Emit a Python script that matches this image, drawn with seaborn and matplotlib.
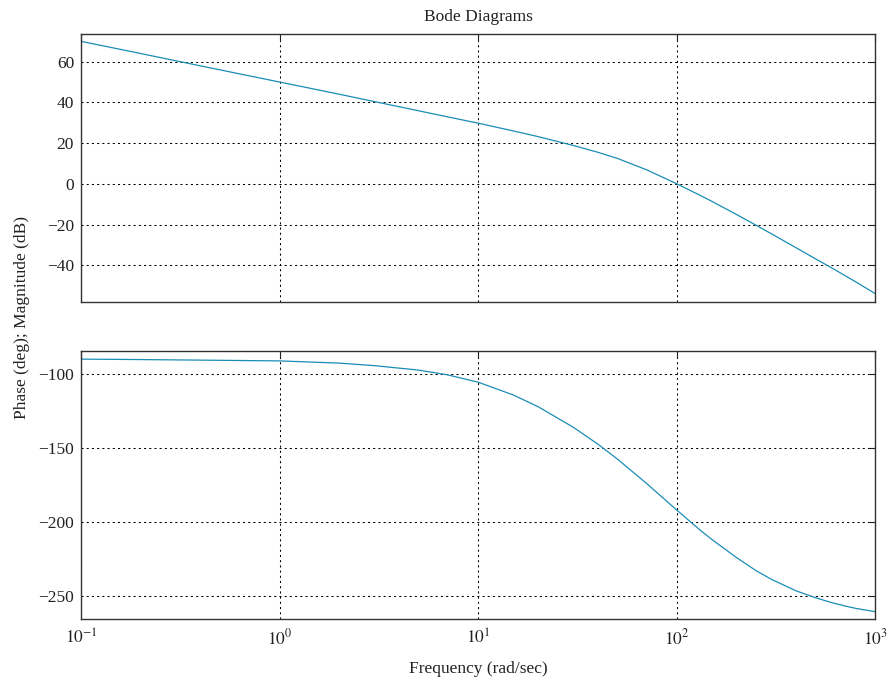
import matplotlib
matplotlib.use("Agg")
import numpy as np
import pandas as pd
import matplotlib.pyplot as plt
import seaborn as sns
from matplotlib.ticker import FixedLocator, NullLocator, FixedFormatter

# Values
freq = [0.1, 0.2, 0.5, 1, 2, 3, 5, 7, 10, 15, 20, 30, 40, 50, 70,
        100, 130, 150, 200, 250, 300, 400, 500, 600, 700, 800, 1000]
mag_db = [70.0, 64.0, 56.0, 50.0, 44.0, 40.4, 35.9, 32.9, 29.8, 26.0, 23.2, 18.9, 15.5, 12.55, 7.0,
          0.0, -5.5, -8.6, -15.1, -20.3, -24.6, -31.5, -36.9, -41.2, -45.0, -48.3, -54.0]
phase_deg = [-90.2, -90.5, -91.0, -91.4, -92.9, -94.6, -97.6, -100.8, -105.8, -114.4, -122.3, -136.1, -147.6, -157.5, -173.9,
             -192.2, -205.3, -212.0, -224.3, -233.0, -239.0, -246.8, -251.4, -254.6, -256.9, -258.6, -260.8]

xticks = [0.1, 1, 10, 100, 1000]
xtick_labels = [r"$10^{-1}$", r"$10^{0}$", r"$10^{1}$", r"$10^{2}$", r"$10^{3}$"]
mag_ticks = [-40, -20, 0, 20, 40, 60]
phase_ticks = [-250, -200, -150, -100]

df = pd.DataFrame({"freq": freq, "mag": mag_db, "phase": phase_deg})

sns.set_theme(style="white")
plt.rcParams["font.family"] = ["Liberation Serif", "DejaVu Serif"]
plt.rcParams["mathtext.fontset"] = "stix"
plt.rcParams["axes.unicode_minus"] = True

line_color = "#1a8db5"
text_color = "#222222"

fig = plt.figure(figsize=(8.91, 6.82), dpi=100)
ax1 = fig.add_axes([0.0909, 0.5576, 0.8917, 0.3930])
ax2 = fig.add_axes([0.0909, 0.0924, 0.8917, 0.3934])

sns.lineplot(data=df, x="freq", y="mag", ax=ax1, color=line_color, linewidth=0.9)
sns.lineplot(data=df, x="freq", y="phase", ax=ax2, color=line_color, linewidth=0.9)

for ax in (ax1, ax2):
    ax.set_xscale("log")
    ax.set_xlim(0.1, 1000)
    ax.xaxis.set_major_locator(FixedLocator(xticks))
    ax.xaxis.set_minor_locator(NullLocator())
    ax.grid(True, which="major", color="black", linestyle=(0, (2, 3)), linewidth=0.75)
    ax.tick_params(which="both", direction="in", top=True, right=True, length=5,
                   width=0.8, labelsize=12.5, colors=text_color, pad=5)
    for sp in ax.spines.values():
        sp.set_color("#333333")
        sp.set_linewidth(1.0)
        sp.set_visible(True)
    ax.set_xlabel("")
    ax.set_ylabel("")

ax1.set_ylim(-57.9, 73.75)
ax1.yaxis.set_major_locator(FixedLocator(mag_ticks))
ax1.set_xticklabels([])

ax2.set_ylim(-265.7, -84.5)
ax2.yaxis.set_major_locator(FixedLocator(phase_ticks))
ax2.xaxis.set_major_formatter(FixedFormatter(xtick_labels))
ax2.tick_params(axis="x", pad=7)

ax1.set_title("Bode Diagrams", fontsize=12.5, color=text_color, pad=9)
ax2.set_xlabel("Frequency (rad/sec)", fontsize=12.5, color=text_color, labelpad=9)
fig.text(0.0247, 0.535, "Phase (deg); Magnitude (dB)", rotation=90, fontsize=12.5,
         color=text_color, ha="center", va="center")

fig.savefig("out.png", dpi=100)
